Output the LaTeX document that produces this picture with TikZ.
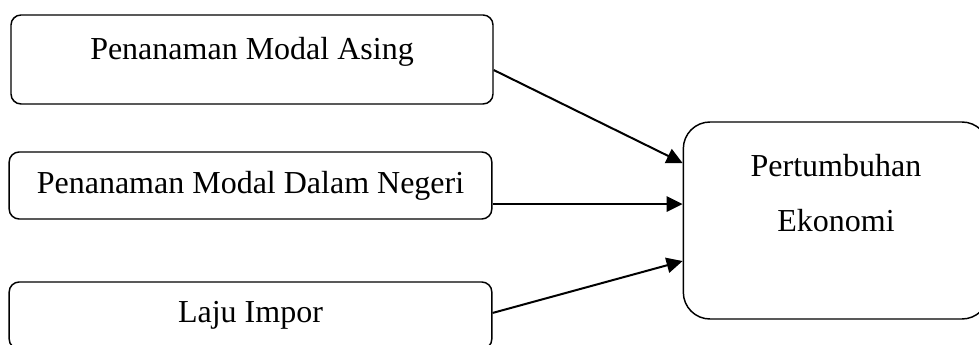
\documentclass[tikz,border=0pt]{standalone}
\usepackage{fontspec}
\setmainfont{Liberation Serif}
\usepackage{tikz}
\usetikzlibrary{arrows.meta,positioning}

\begin{document}
\begin{tikzpicture}[x=0.75pt, y=-0.75pt,
    varbox/.style={draw, line width=1.1pt, rounded corners=7.5pt, minimum width=362pt, minimum height=50.25pt, font=\fontsize{24}{41}\selectfont},
    growthbox/.style={draw, line width=1.1pt, rounded corners=20pt, minimum width=229pt, minimum height=147.75pt, align=center, font=\fontsize{24}{41}\selectfont},
    link/.style={-{Triangle[length=12pt,width=11.5pt]}, line width=1.5pt}]

    \useasboundingbox (0,0) rectangle (979,345);

    % Variables
    \node[varbox, minimum width=361.5pt, minimum height=66.75pt, text height=16pt, text depth=16pt] (pma) at (252,59.5) {Penanaman Modal Asing};
    \node[varbox] (pmdn) at (250.5,185.5) {Penanaman Modal Dalam Negeri};
    \node[varbox] (impor) at (250.5,315.5) {Laju Impor};

    % Dependent variable
    \node[growthbox] (growth) at (836,220.5) {Pertumbuhan\\Ekonomi\\~};

    % Links
    \draw[link] ([yshift=-7.9pt]pma.east) -- ([yshift=43.1pt]growth.west);
    \draw[link] ([yshift=-13.9pt]pmdn.east) -- ([yshift=-13.9pt]pmdn.east -| growth.west);
    \draw[link] ([yshift=1.9pt]impor.east) -- ([yshift=-30.4pt]growth.west);

\end{tikzpicture}
\end{document}
